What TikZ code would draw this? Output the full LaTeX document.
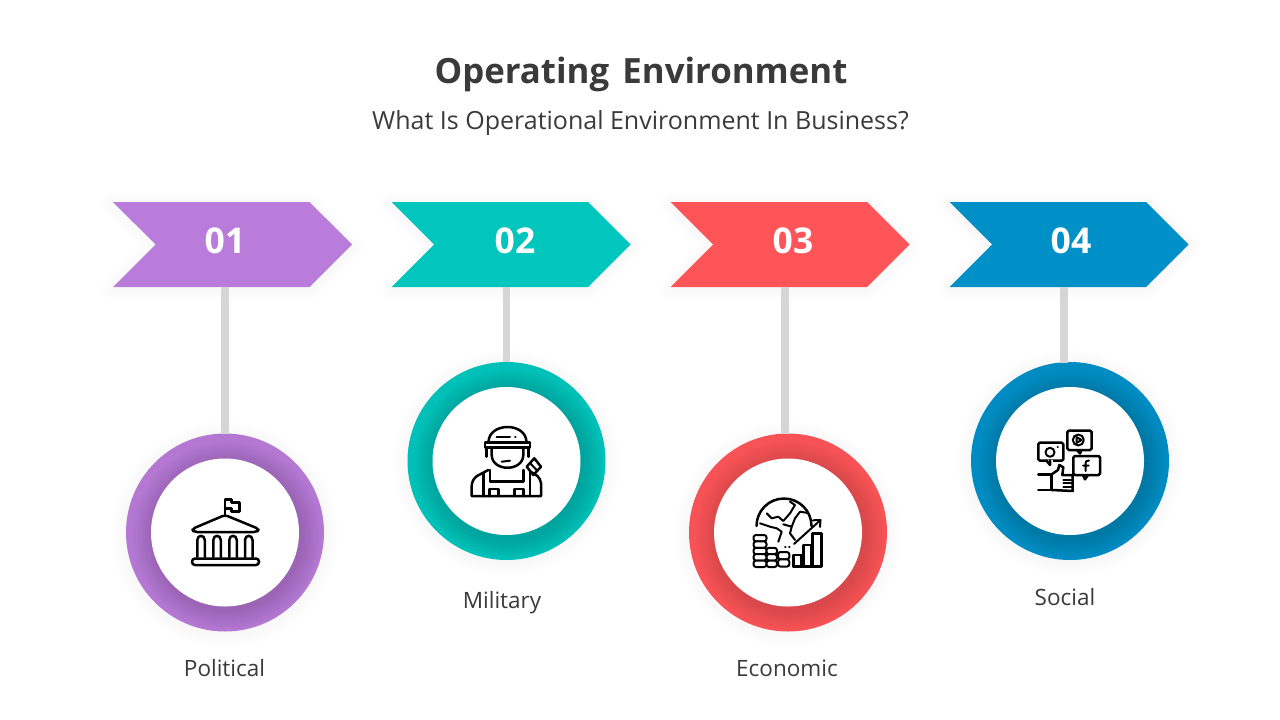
\documentclass[tikz,border=0pt]{standalone}
\usepackage{fontspec}
\setmainfont{Open Sans}
\usetikzlibrary{shapes.symbols,calc}
\definecolor{cPurple}{HTML}{BA7CDA}
\definecolor{cTeal}{HTML}{00C6BD}
\definecolor{cRed}{HTML}{FF5558}
\definecolor{cBlue}{HTML}{0090C8}
\definecolor{cText}{HTML}{3A3A3A}
\definecolor{cLink}{HTML}{D6D6D6}
\tikzset{
  chev/.style={signal,signal to=east,signal from=west,signal pointer angle=90,
    minimum width=239pt,minimum height=85pt,inner sep=0pt,outer sep=0pt},
  ringnode/.style={circle,minimum size=198pt,inner sep=0pt,outer sep=0pt},
  holenode/.style={circle,minimum size=148pt,inner sep=0pt,outer sep=0pt,fill=white},
  numtext/.style={text=white,font=\bfseries\fontsize{35.5}{40}\selectfont,inner sep=0pt},
  labeltext/.style={text=cText,font=\fontsize{22.5}{26}\selectfont,inner sep=0pt},
  linkline/.style={draw=cLink,line width=7.5pt},
  ic/.style={draw=black,line width=2.5pt,line join=round,line cap=round},
  icthin/.style={draw=black,line width=2pt,line join=round,line cap=round}
}
\newcommand{\chevunit}[5]{% name, cx, color, num x, num
  \foreach \w in {4,8,...,24}{
    \node[chev,draw=black,line width=\w pt,opacity=.005,line join=round] at (#2,246.5) {};
  }
  \node[chev,fill=#3] (#1) at (#2,244.5) {};
  \node[numtext] (num#1) at (#4,240.5) {#5};
}
\newcommand{\ringunit}[4]{% name, cx, cy, color
  \foreach \w in {2,4,...,14}{
    \fill[black,opacity=.004] (#2,#3+2) circle ({99+\w});
  }
  \node[ringnode,fill=#4] (#1) at (#2,#3) {};
  \begin{scope}
    \clip (#2,#3) circle (99);
    \foreach \r in {76,78,...,94}{
      \fill[black,opacity=.012] (#2+2,#3+3) circle (\r);
    }
  \end{scope}
  \node[holenode] (hole#1) at (#2,#3) {};
}
\begin{document}
\begin{tikzpicture}[x=1pt,y=-1pt]
\useasboundingbox (0,0) rectangle (1280,720);
\fill[white] (0,0) rectangle (1280,720);

\node[text=cText,font=\bfseries\fontsize{34.8}{40}\selectfont,inner sep=0pt] (title) at (641,74.5) {Operating\hspace{.12em} Environment};
\node[text=cText,font=\fontsize{25}{30}\selectfont,inner sep=0pt] (subtitle) at (640.5,123) {What Is Operational Environment In Business?};

\chevunit{a}{232.5}{cPurple}{225}{01}
\chevunit{b}{511}{cTeal}{515}{02}
\chevunit{c}{790}{cRed}{793}{03}
\chevunit{d}{1069}{cBlue}{1071}{04}

\ringunit{ra}{225}{532.5}{cPurple!97!black}
\ringunit{rb}{506.5}{461}{cTeal!97!black}
\ringunit{rc}{788}{532.5}{cRed!97!black}
\ringunit{rd}{1070}{461}{cBlue!97!black}

\draw[linkline] (a.south -| ra.north) -- (ra.north);
\draw[linkline] (b.south -| rb.north) -- (rb.north);
\draw[linkline] ([xshift=-3pt]c.south -| rc.north) -- ([xshift=-3pt]rc.north);
\draw[linkline] ([xshift=-6pt]d.south -| rd.north) -- ([xshift=-6pt,yshift=-.5pt]rd.north);

\node[labeltext] (la) at (224.5,668) {Political};
\node[labeltext] (lb) at (502,603) {Military};
\node[labeltext] (lc) at (787,668) {Economic};
\node[labeltext] (ld) at (1065,597.5) {Social};

% icon 1: building
\draw[ic] (225,515) -- (225,499.5) -- (231.7,499.5) -- (231.7,502.7) -- (239.3,502.7) -- (239.3,511.7) -- (231.7,511.7) -- (231.7,508.3) -- (225,508.3);
\draw[ic,rounded corners=3pt] (225,515) -- (192,529) -- (194,532) -- (257,532) -- (259,529) -- cycle;
\foreach \xa in {197.3,213.3,229.3,245}{
  \draw[ic] (\xa,557) -- (\xa,540) .. controls (\xa,534.5) and (\xa+7.5,534.5) .. (\xa+7.5,540) -- (\xa+7.5,557);
}
\draw[ic,rounded corners=3pt] (192,558.5) rectangle (259,565);

% icon 2: soldier
\draw[ic] (488.5,442) .. controls (489,422) and (526,422) .. (526.5,442);
\draw[ic] (485,442.3) rectangle (530,447.7);
\draw[ic] (491.7,447.7) -- (491.7,455) .. controls (492,472) and (523,472) .. (523.3,455) -- (523.3,447.7);
\draw[icthin] (496.7,436.7) -- (510,436.7) (515,436.5) -- (515.5,436.5);
\draw[icthin] (501.7,461.7) -- (510,460.7);
\draw[ic] (486.7,448) -- (486.7,456.7) (528.3,448) -- (528.3,456.7);
\draw[ic] (488.3,470) -- (477,476) .. controls (473,479) and (472,482) .. (471.7,486) -- (471.7,496) -- (541,496) -- (541,483) .. controls (540,477) and (536,474) .. (530,471.7);
\draw[ic] (483.3,473) -- (483.3,496) (490,470) -- (490,481.7) -- (523.3,481.7) -- (523.3,470) (530,472) -- (530,496);
\draw[ic] (489.3,496) -- (489.3,489) -- (498.3,489) -- (498.3,496) (514.3,496) -- (514.3,489) -- (523.3,489) -- (523.3,496);
\draw[ic] (526.7,466.7) -- (534.3,458.3) -- (541,466.7) -- (533.3,475) -- cycle;
\draw[icthin] (530,463) -- (537.5,471);

% icon 3: globe and coins
\draw[ic] (756.5,526) arc[start angle=180,end angle=360,radius=27.5];
\draw[icthin] (766.7,513.3) -- (771.7,518.3) -- (778.3,516.7) -- (783.3,521) -- (790,513.3) -- (795,505) -- (790,501.7);
\draw[icthin] (760,523.3) -- (770,526.7) -- (776.7,528.3) -- (781.7,531.7) -- (778.3,541.7);
\draw[icthin] (783.3,524.3) -- (791.7,526.7) -- (795,518.3) -- (800,511.7) -- (808,513);
\draw[icthin] (791.7,526.7) -- (790,533.3) -- (795,540);
\foreach \ya in {535,541.4,547.8,554.2,560.6}{
  \draw[icthin,fill=white,rounded corners=2.5pt] (753.5,\ya) rectangle (766.5,\ya+6.4);
}
\foreach \ya in {547.8,554.2,560.6}{
  \draw[icthin,fill=white,rounded corners=2.5pt] (766.5,\ya) rectangle (777,\ya+6.4);
}
\foreach \ya in {552,559.3}{
  \draw[icthin,fill=white,rounded corners=2.5pt] (778,\ya) rectangle (789.3,\ya+7.3);
}
\draw[ic] (793.3,566.7) -- (793.3,555) -- (801.7,555) -- (801.7,566.7);
\draw[ic] (803.3,566.7) -- (803.3,545) -- (811.7,545) -- (811.7,566.7);
\draw[ic] (812.7,566.7) -- (812.7,533.3) -- (821.7,533.3) -- (821.7,566.7) -- (793.3,566.7);
\draw[icthin] (794,544) -- (820,520.5);
\draw[icthin] (813,520.3) -- (820.5,520) -- (820,527);
\draw[icthin] (785,546.7) -- (785.5,546.7) (789,546.7) -- (789.5,546.7);

% icon 4: social
\draw[ic,rounded corners=1.5pt] (1038.3,442.7) rectangle (1063.3,460.7);
\fill[white] (1046,459.5) rectangle (1053,462);
\draw[ic] (1046.5,460.7) -- (1050,465) -- (1050,460.7);
\draw[icthin] (1050,452.3) circle (4.5);
\draw[icthin] (1057.7,447.3) -- (1057.9,447.3);
\draw[ic,rounded corners=1.5pt] (1067.3,430.7) rectangle (1091.7,450);
\draw[ic] (1077,450) -- (1080,453.5) -- (1081.5,450);
\draw[icthin] (1078.3,440) circle (5.5);
\draw[icthin] (1076.5,437) -- (1081.5,440) -- (1076.5,443) -- cycle;
\draw[ic,rounded corners=1.5pt,fill=white] (1073.3,456) rectangle (1100,475);
\draw[ic] (1083,475) -- (1085,479.3) -- (1088,475);
\draw[icthin] (1089,460.5) .. controls (1086,460) and (1085.5,462) .. (1085.5,464) -- (1085.5,471) (1083,465.5) -- (1088.5,465.5);
\draw[ic] (1038.3,474.3) -- (1051.7,474.3) -- (1051.7,490) -- (1038.3,490);
\draw[ic] (1051.7,474.3) -- (1058,470) -- (1059.3,465) -- (1063.3,467.3) -- (1062.3,475) -- (1072.7,475) -- (1072.7,491) -- (1051.7,490);
\draw[icthin] (1063.3,480) -- (1072.7,480) (1063.3,483.3) -- (1072.7,483.3) (1063.3,486.7) -- (1072.7,486.7);
\end{tikzpicture}
\end{document}
